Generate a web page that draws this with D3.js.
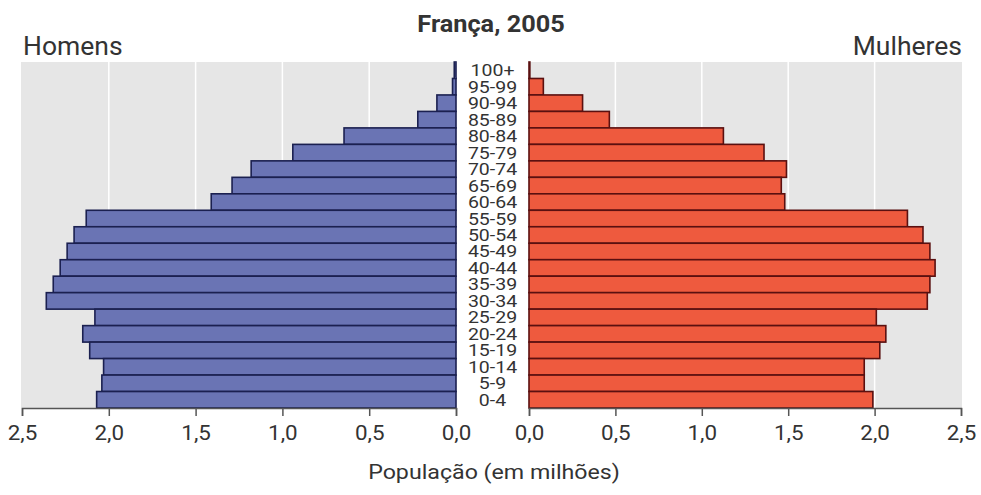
<!DOCTYPE html>
<html>
<head>
<meta charset="utf-8">
<script src="https://cdn.jsdelivr.net/npm/d3@7"></script>
<style>
  body { margin: 0; background: #fff; }
  text { font-family: Roboto, "Liberation Sans", sans-serif; fill: #333; }
</style>
</head>
<body>
<div id="chart"></div>
<script>
// age groups, top to bottom
var ages = ["100+", "95-99", "90-94", "85-89", "80-84", "75-79", "70-74", "65-69", "60-64",
            "55-59", "50-54", "45-49", "40-44", "35-39", "30-34", "25-29", "20-24",
            "15-19", "10-14", "5-9", "0-4"];

// population in millions
var homens   = [0.01, 0.02, 0.11, 0.22, 0.645, 0.94, 1.18, 1.29, 1.41,
                2.13, 2.20, 2.24, 2.28, 2.32, 2.36, 2.08, 2.15,
                2.11, 2.03, 2.04, 2.07];
var mulheres = [0.005, 0.083, 0.31, 0.465, 1.125, 1.36, 1.49, 1.46, 1.48,
                2.19, 2.28, 2.32, 2.35, 2.32, 2.305, 2.01, 2.065,
                2.03, 1.94, 1.94, 1.99];

var ticks = [0, 0.5, 1, 1.5, 2, 2.5];

var width = 981, height = 495;
var plotTop = 62, plotBottom = 408;

var svg = d3.select("#chart").append("svg")
    .attr("width", width).attr("height", height);

var xL = d3.scaleLinear().domain([0, 2.5]).range([456, 22]);
var xR = d3.scaleLinear().domain([0, 2.5]).range([529, 961]);
var y = d3.scaleBand().domain(ages).range([plotTop, plotBottom]).padding(0);

var fmt = function(d) { return d3.format(".1f")(d).replace(".", ","); };

// text that is a bit wider than the font (the source scan is stretched sideways)
function label(px, py, size, anchor, str, sx) {
    return svg.append("text")
        .attr("transform", "translate(" + px + "," + py + ") scale(" + (sx || 1.1) + ",1)")
        .attr("text-anchor", anchor).attr("font-size", size).text(str);
}

function panel(x, data, fill, stroke, bgX0, bgX1) {
    var g = svg.append("g");
    // Background and white gridlines
    g.append("rect").attr("x", bgX0).attr("y", plotTop)
        .attr("width", bgX1 - bgX0).attr("height", plotBottom - plotTop)
        .attr("fill", "#e6e6e6");
    g.selectAll("line.grid").data(ticks.filter(function(d) { return d > 0 && d < 2.5; }))
        .enter().append("line").attr("class", "grid")
        .attr("x1", x).attr("x2", x)
        .attr("y1", plotTop).attr("y2", plotBottom)
        .attr("stroke", "#fff").attr("stroke-width", 1.5);
    // Bars
    g.selectAll("rect.bar").data(data).enter().append("rect").attr("class", "bar")
        .attr("x", function(d) { return Math.min(x(0), x(d)); })
        .attr("width", function(d) { return Math.abs(x(d) - x(0)); })
        .attr("y", function(d, i) { return y(ages[i]); })
        .attr("height", y.bandwidth())
        .attr("fill", fill).attr("stroke", stroke).attr("stroke-width", 1.6);
    // Axis
    var axis = g.append("g").attr("transform", "translate(0," + plotBottom + ")")
        .call(d3.axisBottom(x).tickValues(ticks).tickFormat(fmt).tickSize(8).tickPadding(10));
    axis.select(".domain").attr("stroke", "#555").attr("stroke-width", 1.5);
    axis.selectAll(".tick line").attr("stroke", "#555").attr("stroke-width", 1.5);
    axis.selectAll(".tick text").attr("font-size", 20).attr("fill", "#333")
        .attr("transform", "scale(1.12,1)")
        .style("font-family", "Roboto, sans-serif");
}

panel(xL, homens, "#6a74b4", "#1b2050", 21, 456);
panel(xR, mulheres, "#ee5a3e", "#5a1010", 529, 962);

// Age labels in the middle
svg.append("g").selectAll("text").data(ages).enter().append("text")
    .attr("transform", function(d) {
        return "translate(492.5," + (y(d) + y.bandwidth() / 2 + 6) + ") scale(1.22,1)";
    })
    .attr("text-anchor", "middle")
    .attr("font-size", 16)
    .text(function(d) { return d; });

label(491, 32, 23, "middle", "França, 2005", 1.1).attr("font-weight", "bold");
label(23, 55, 25, "start", "Homens", 1.06);
label(962, 55, 25, "end", "Mulheres", 1.06);
label(494, 479, 20, "middle", "População (em milhões)", 1.16);
</script>
</body>
</html>
